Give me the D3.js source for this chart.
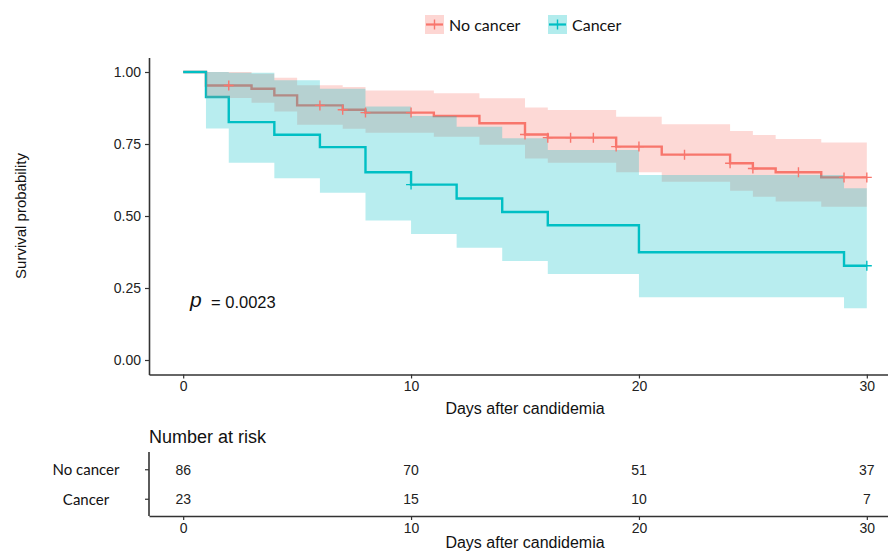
<!DOCTYPE html>
<html>
<head>
<meta charset="utf-8">
<script src="https://cdn.jsdelivr.net/npm/d3@7"></script>
<style>
  body { margin: 0; background: #fff; }
  svg { display: block; }
  .tick text { font-family: "Liberation Sans", Arial, sans-serif; font-size: 14px; fill: #222; }
</style>
</head>
<body>
<div id="chart"></div>
<script>
// survival curves
const groups = ['No cancer', 'Cancer'];
const colors = ['#F8766D', '#00BFC4'];

const noCancerTime  = [0, 1, 3, 4, 5, 7, 8, 11, 13, 15, 16, 19, 21, 24, 25, 26, 28, 30];
const noCancerSurv  = [1, 0.953, 0.942, 0.919, 0.884, 0.869, 0.859, 0.847, 0.822, 0.783, 0.772, 0.741, 0.713, 0.683, 0.665, 0.652, 0.634, 0.634];
const noCancerLower = [1, 0.910, 0.893, 0.863, 0.817, 0.803, 0.789, 0.775, 0.747, 0.700, 0.685, 0.652, 0.619, 0.588, 0.567, 0.550, 0.532, 0.532];
const noCancerUpper = [1, 1.000, 0.994, 0.980, 0.954, 0.948, 0.936, 0.926, 0.909, 0.877, 0.868, 0.845, 0.819, 0.795, 0.781, 0.767, 0.755, 0.755];
const noCancerCensor = [2, 6, 7, 8, 10, 15, 16, 17, 18, 19, 20, 22, 24, 25, 27, 29, 30];

const cancerTime  = [0, 1, 2, 4, 6, 8, 10, 12, 14, 16, 20, 29, 30];
const cancerSurv  = [1, 0.913, 0.826, 0.782, 0.739, 0.652, 0.609, 0.561, 0.514, 0.468, 0.374, 0.327, 0.327];
const cancerLower = [1, 0.804, 0.685, 0.631, 0.581, 0.484, 0.4375, 0.390, 0.344, 0.299, 0.218, 0.180, 0.180];
const cancerUpper = [1, 1.000, 0.997, 0.971, 0.942, 0.880, 0.847, 0.810, 0.770, 0.729, 0.642, 0.596, 0.596];
const cancerCensor = [10, 30];

// number at risk
const riskTimes = [0, 10, 20, 30];
const riskNoCancer = [86, 70, 51, 37];
const riskCancer = [23, 15, 10, 7];

const xTicks = [0, 10, 20, 30];
const yTicks = [0, 0.25, 0.5, 0.75, 1];
const pText = '= 0.0023';

function makeSeries(time, surv, lower, upper) {
    return time.map((t, i) => ({ t: t, s: surv[i], lo: lower[i], hi: upper[i] }));
}
const series = [
    makeSeries(noCancerTime, noCancerSurv, noCancerLower, noCancerUpper),
    makeSeries(cancerTime, cancerSurv, cancerLower, cancerUpper)
];
const censors = [noCancerCensor, cancerCensor];
const risks = [riskNoCancer, riskCancer];

const W = 888, H = 552;
const svg = d3.select('#chart').append('svg')
    .attr('width', W).attr('height', H);

const font = '"Liberation Sans", Arial, sans-serif';
const font2 = 'Lato, "Open Sans", sans-serif';

// scales
const x = d3.scaleLinear().domain([-1.5, 31.5]).range([149, 901]);
const y = d3.scaleLinear().domain([-0.05, 1.05]).range([374.4, 57.6]);

const line = d3.line().curve(d3.curveStepAfter)
    .x(d => x(d.t)).y(d => y(d.s));
const area = d3.area().curve(d3.curveStepAfter)
    .x(d => x(d.t)).y0(d => y(d.lo)).y1(d => y(d.hi));

const plot = svg.append('g');

// lines first, then ribbons on top, then censor marks
series.forEach((d, i) => {
    plot.append('path').datum(d)
        .attr('d', line)
        .attr('fill', 'none')
        .attr('stroke', colors[i])
        .attr('stroke-width', 2.4);
});
series.forEach((d, i) => {
    plot.append('path').datum(d)
        .attr('d', area)
        .attr('fill', colors[i])
        .attr('fill-opacity', 0.28)
        .attr('stroke', 'none');
});

function survAt(d, t) {
    const idx = d3.bisectRight(d.map(e => e.t), t) - 1;
    return d[Math.max(0, idx)].s;
}
series.forEach((d, i) => {
    const g = plot.append('g');
    censors[i].forEach(t => {
        const cx = x(t), cy = y(survAt(d, t));
        g.append('path')
            .attr('d', `M${cx - 5},${cy}H${cx + 5}M${cx},${cy - 5}V${cy + 5}`)
            .attr('stroke', colors[i])
            .attr('stroke-width', 1.4)
            .attr('fill', 'none');
    });
});

// axes
const xAxis = svg.append('g')
    .attr('transform', 'translate(0,374.5)')
    .call(d3.axisBottom(x).tickValues(xTicks).tickSize(4).tickSizeOuter(0).tickPadding(3));
const yAxis = svg.append('g')
    .attr('transform', 'translate(149,0)')
    .call(d3.axisLeft(y).tickValues(yTicks).tickFormat(d3.format('.2f')).tickSize(4).tickSizeOuter(0).tickPadding(4));
[xAxis, yAxis].forEach(a => {
    a.select('.domain').attr('stroke', '#333').attr('stroke-width', 1.6);
    a.selectAll('.tick line').attr('stroke', '#333').attr('stroke-width', 1.2);
});

svg.append('text')
    .attr('x', 525).attr('y', 414)
    .attr('text-anchor', 'middle')
    .style('font-family', font).style('font-size', '16px').attr('fill', '#111')
    .text('Days after candidemia');

svg.append('text')
    .attr('transform', 'translate(26,216) rotate(-90)')
    .attr('text-anchor', 'middle')
    .style('font-family', font).style('font-size', '15px').attr('fill', '#111')
    .text('Survival probability');

// p value
svg.append('text')
    .attr('x', 190).attr('y', 307)
    .style('font-family', font).style('font-size', '21px').style('font-style', 'italic')
    .attr('fill', '#111')
    .text('p');
svg.append('text')
    .attr('x', 211).attr('y', 308)
    .style('font-family', font).style('font-size', '16.5px').attr('fill', '#111')
    .text(pText);

// legend
const legendX = [425, 548];
groups.forEach((name, i) => {
    const lx = legendX[i];
    const lg = svg.append('g');
    lg.append('rect')
        .attr('x', lx).attr('y', 15).attr('width', 19).attr('height', 19)
        .attr('fill', colors[i]).attr('fill-opacity', 0.3);
    lg.append('path')
        .attr('d', `M${lx + 1},24.5H${lx + 18}`)
        .attr('stroke', colors[i]).attr('stroke-width', 2.2);
    lg.append('path')
        .attr('d', `M${lx + 9.5},19.5V29.5`)
        .attr('stroke', colors[i]).attr('stroke-width', 1.4);
    lg.append('text')
        .attr('x', lx + 24).attr('y', 30.5)
        .style('font-family', font2).style('font-size', '16px').attr('fill', '#111')
        .text(name);
});

// risk table
svg.append('text')
    .attr('x', 149).attr('y', 443)
    .style('font-family', font).style('font-size', '18px').attr('fill', '#111')
    .text('Number at risk');

const yr = d3.scaleBand().domain(groups).range([455, 514]);
const rx = svg.append('g')
    .attr('transform', 'translate(0,516)')
    .call(d3.axisBottom(x).tickValues(xTicks).tickSize(4).tickSizeOuter(0).tickPadding(3));
rx.select('.domain').attr('stroke', '#333').attr('stroke-width', 1.6);
rx.selectAll('.tick line').attr('stroke', '#333').attr('stroke-width', 1.2);

svg.append('line')
    .attr('x1', 149).attr('x2', 149).attr('y1', 452).attr('y2', 516)
    .attr('stroke', '#333').attr('stroke-width', 1.6);

groups.forEach((name, i) => {
    const cy = yr(name) + yr.bandwidth() / 2;
    svg.append('line')
        .attr('x1', 145).attr('x2', 149).attr('y1', cy).attr('y2', cy)
        .attr('stroke', '#333').attr('stroke-width', 1.2);
    svg.append('text')
        .attr('x', 86).attr('y', cy).attr('dy', '0.35em')
        .attr('text-anchor', 'middle')
        .style('font-family', font2).style('font-size', '15px').attr('fill', '#111')
        .text(name);
    svg.selectAll(null).data(riskTimes).enter().append('text')
        .attr('x', d => x(d)).attr('y', cy).attr('dy', '0.35em')
        .attr('text-anchor', 'middle')
        .style('font-family', font).style('font-size', '14px').attr('fill', '#222')
        .text((d, j) => risks[i][j]);
});

svg.append('text')
    .attr('x', 525).attr('y', 548)
    .attr('text-anchor', 'middle')
    .style('font-family', font).style('font-size', '16px').attr('fill', '#111')
    .text('Days after candidemia');
</script>
</body>
</html>
